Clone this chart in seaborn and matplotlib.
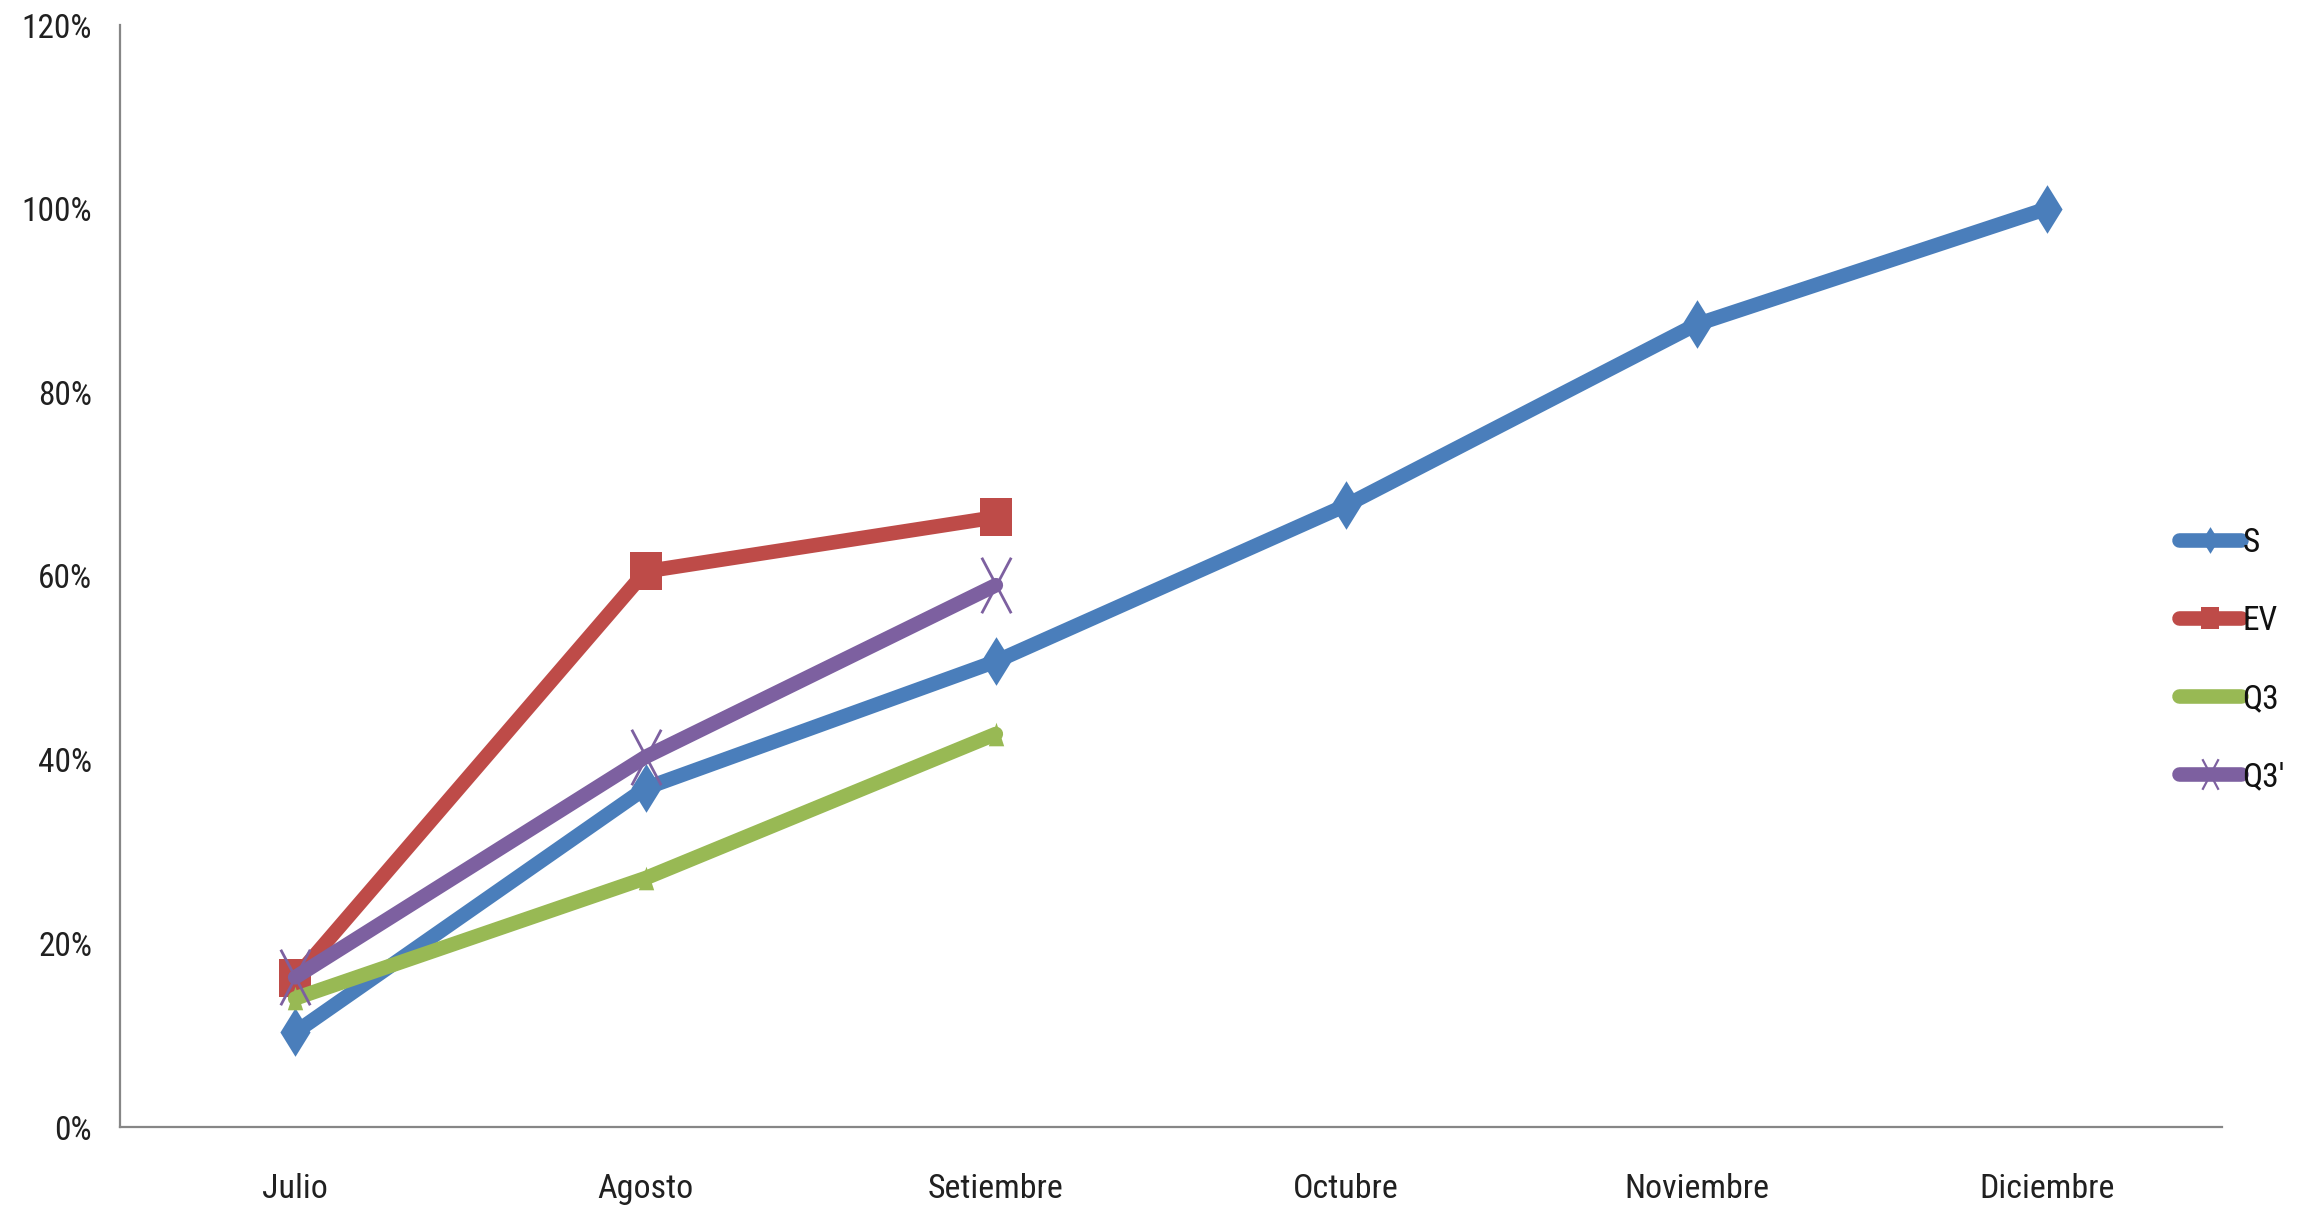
import matplotlib
matplotlib.use("Agg")
import matplotlib.pyplot as plt
from matplotlib.path import Path
from matplotlib.lines import Line2D
from matplotlib import font_manager as fm
import seaborn as sns
import pandas as pd

# ---- data (percent) ----
months = ["Julio", "Agosto", "Setiembre", "Octubre", "Noviembre", "Diciembre"]
s_vals = [10.3, 36.9, 50.7, 67.7, 87.4, 100.0]
ev_vals = [16.2, 60.5, 66.4]
q3_vals = [14.0, 27.1, 42.8]
q3p_vals = [16.3, 40.3, 59.0]
series_names = ["S", "EV", "Q3", "Q3'"]
y_ticks = [0, 20, 40, 60, 80, 100, 120]

colors = {"S": "#4A7EBB", "EV": "#BE4B48", "Q3": "#98B954", "Q3'": "#7D60A0"}

# custom markers (tall, as in the reference)
diamond = Path([(0, 1), (0.62, 0), (0, -1), (-0.62, 0), (0, 1)],
               [Path.MOVETO, Path.LINETO, Path.LINETO, Path.LINETO, Path.CLOSEPOLY])
square = Path([(-0.8, -1), (0.8, -1), (0.8, 1), (-0.8, 1), (-0.8, -1)],
              [Path.MOVETO, Path.LINETO, Path.LINETO, Path.LINETO, Path.CLOSEPOLY])
triangle = Path([(0, 1), (0.65, -1), (-0.65, -1), (0, 1)],
                [Path.MOVETO, Path.LINETO, Path.LINETO, Path.CLOSEPOLY])
xmark = Path([(-0.53, -1), (0.53, 1), (-0.53, 1), (0.53, -1)],
             [Path.MOVETO, Path.LINETO, Path.MOVETO, Path.LINETO])

markers = {"S": (diamond, 35), "EV": (square, 28), "Q3": (triangle, 17), "Q3'": (xmark, 40)}

sns.set_theme(style="white")
plt.rcParams["font.family"] = ["DejaVu Sans"]


def narrow_font(size):
    names = {f.name for f in fm.fontManager.ttflist}
    for cand in ["Liberation Sans Narrow", "Roboto Condensed", "Open Sans Condensed",
                 "DejaVu Sans Condensed", "Noto Sans Condensed"]:
        if cand in names:
            return fm.FontProperties(family=cand, size=size)
    for f in fm.fontManager.ttflist:
        if str(f.stretch) in ("condensed", "semi-condensed", "extra-condensed") and \
                f.weight in (400, "normal", "regular") and f.style == "normal":
            return fm.FontProperties(fname=f.fname, size=size)
    return fm.FontProperties(family="DejaVu Sans", stretch="condensed", size=size)


W, H = 2303, 1209
fig = plt.figure(figsize=(W / 100, H / 100), dpi=100)
ax = fig.add_axes([120 / W, 82 / H, (2222 - 120) / W, (1127 - 25) / H])

data = {
    "S": (months, s_vals),
    "EV": (months[:3], ev_vals),
    "Q3": (months[:3], q3_vals),
    "Q3'": (months[:3], q3p_vals),
}

LW = 10.5
handles = []
for name in series_names:
    xs, ys = data[name]
    df = pd.DataFrame({"mes": xs, "valor": ys})
    mk, ms = markers[name]
    c = colors[name]
    if name == "Q3'":
        mkw = dict(marker=mk, markersize=ms, markeredgecolor=c, markerfacecolor="none",
                   markeredgewidth=2.0)
    else:
        mkw = dict(marker=mk, markersize=ms, markeredgecolor=c, markerfacecolor=c,
                   markeredgewidth=0)
    sns.lineplot(data=df, x="mes", y="valor", ax=ax, color=c, linewidth=LW,
                 sort=False, solid_capstyle="round", solid_joinstyle="round",
                 legend=False, **mkw)
    handles.append(Line2D([0], [0], color=c, linewidth=LW, solid_capstyle="round",
                          marker=mk, markersize=ms * 0.55,
                          markeredgecolor=c,
                          markerfacecolor="none" if name == "Q3'" else c,
                          markeredgewidth=1.6 if name == "Q3'" else 0))

ax.set_xlim(-0.5, 5.5)
ax.set_ylim(0, 120)
ax.set_yticks(y_ticks)
ax.set_yticklabels([f"{v}%" for v in y_ticks])
ax.set_xticks(range(len(months)))
ax.set_xticklabels(months)
fp_y = narrow_font(24)
fp_x = narrow_font(24.5)
for t in ax.get_yticklabels():
    t.set_fontproperties(fp_y)
    t.set_color("#202020")
for t in ax.get_xticklabels():
    t.set_fontproperties(fp_x)
    t.set_color("#202020")
ax.tick_params(axis="both", length=0)
ax.tick_params(axis="y", pad=20)
ax.tick_params(axis="x", pad=33)
ax.set_xlabel("")
ax.set_ylabel("")
for side in ["top", "right"]:
    ax.spines[side].set_visible(False)
for side in ["left", "bottom"]:
    ax.spines[side].set_color("#868686")
    ax.spines[side].set_linewidth(1.6)
ax.grid(False)

leg = fig.legend(handles, series_names, loc="center left",
                 bbox_to_anchor=(2179 / W, 1 - 660 / H), frameon=False,
                 prop=narrow_font(24), handlelength=1.85,
                 handletextpad=0.05, labelspacing=1.38, borderpad=0, borderaxespad=0)
for t in leg.get_texts():
    t.set_color("#111111")

fig.savefig("out.png", dpi=100, facecolor="white")
